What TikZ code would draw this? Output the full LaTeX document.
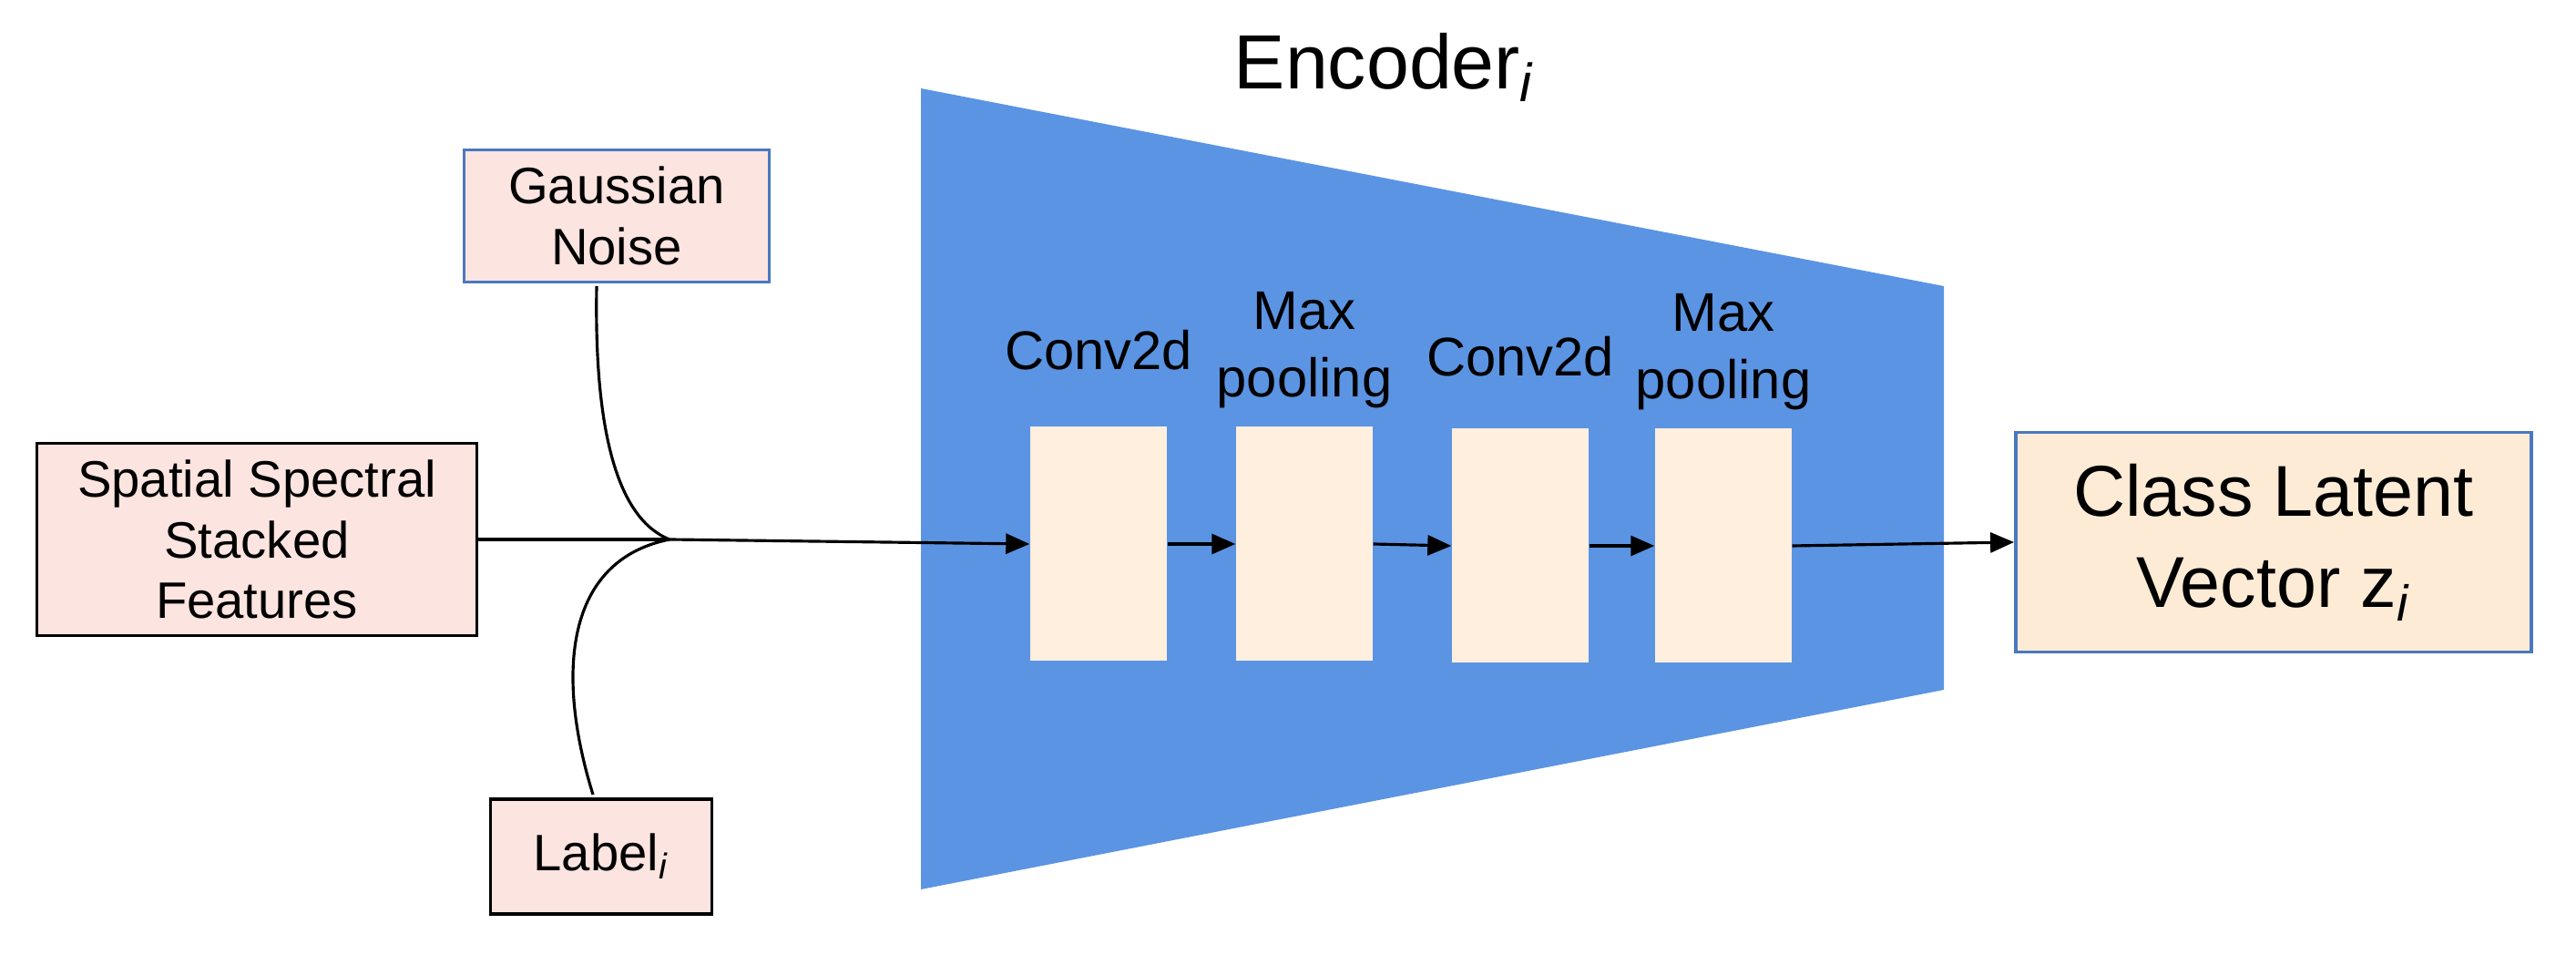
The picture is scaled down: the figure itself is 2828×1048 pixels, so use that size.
\documentclass[tikz,border=0pt]{standalone}
\usepackage{fontspec}
\setmainfont{Liberation Sans}
\usetikzlibrary{arrows.meta}
\definecolor{encblue}{HTML}{5B94E3}
\definecolor{pinkf}{HTML}{FCE4E0}
\definecolor{creamf}{HTML}{FFEFDF}
\definecolor{classf}{HTML}{FDEBD6}
\definecolor{bdblue}{HTML}{4A78C0}
\begin{document}
\begin{tikzpicture}[x=0.1mm,y=-0.1mm,
  box/.style={draw,line width=1.1pt,fill=pinkf,inner sep=0pt,align=center,font=\fontsize{16}{19}\selectfont},
  layer/.style={fill=creamf,inner sep=0pt,minimum width=15mm,minimum height=25.7mm},
  lbl/.style={align=center,font=\fontsize{17}{21}\selectfont},
  arr/.style={-{Triangle[length=2.6mm,width=2.2mm]},line width=0.9pt}]
\useasboundingbox (0,0) rectangle (2828,1048);
\fill[encblue] (1011,97) -- (2134,314) -- (2134,757) -- (1011,976) -- cycle;
\node[font=\fontsize{24}{28}\selectfont] (enc) at (1520,74) {Encoder\textsubscript{\textit{i}}};
\node[box,minimum width=48.3mm,minimum height=21.1mm] (ssf) at (282,592) {Spatial Spectral\\Stacked\\Features};
\node[box,draw=bdblue,minimum width=33.5mm,minimum height=14.5mm] (gn) at (677,237) {Gaussian\\Noise};
\node[box,minimum width=24.3mm,minimum height=12.6mm] (lab) at (660,940) {Label\textsubscript{\textit{i}}};
\coordinate (j) at (735,592);
\node[layer] (c1) at (1206,597) {};
\node[layer] (m1) at (1432,597) {};
\node[layer] (c2) at (1669,599) {};
\node[layer] (m2) at (1892,599) {};
\node[lbl] at (1206,384) {Conv2d};
\node[lbl] at (1432,384) {Max\\pooling};
\node[lbl] at (1669,391) {Conv2d};
\node[lbl] at (1892,386) {Max\\pooling};
\node[draw=bdblue,line width=1.1pt,fill=classf,minimum width=56.6mm,minimum height=24.1mm,align=center,font=\fontsize{22.5}{28.5}\selectfont] (cls) at (2496,595) {Class Latent\\Vector z\textsubscript{\textit{i}}};
\draw[line width=0.9pt] (ssf.east) -- (j);
\draw[line width=0.9pt] (655,314) .. controls (652,480) and (680,570) .. (j);
\draw[line width=0.9pt] (651,872) .. controls (610,740) and (620,615) .. (j);
\draw[arr] (j) -- (c1.west);
\draw[arr] (c1.east) -- (m1.west);
\draw[arr] (m1.east) -- (c2.west);
\draw[arr] (c2.east) -- (m2.west);
\draw[arr] (m2.east) -- (cls.west);
\end{tikzpicture}
\end{document}
